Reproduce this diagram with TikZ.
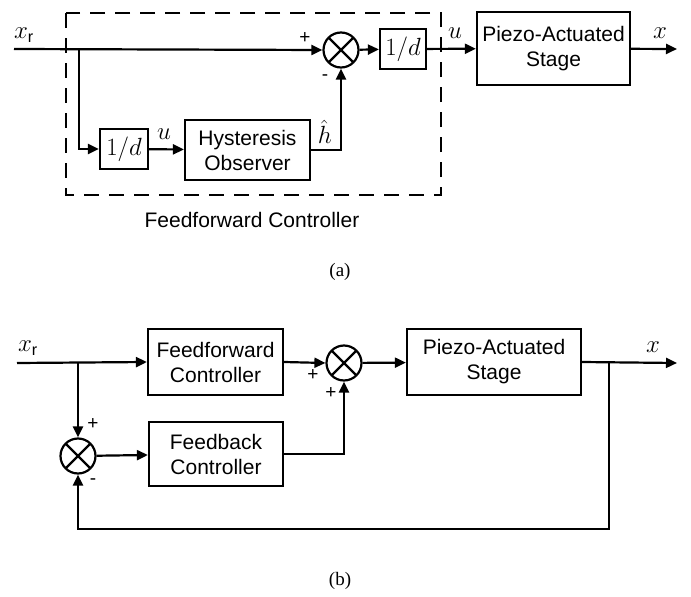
\documentclass[tikz,border=0pt]{standalone}
\usepackage{fontspec}
\setmainfont{Liberation Sans}
\newfontfamily\capfont{Liberation Serif}
\usetikzlibrary{arrows.meta,positioning}

\begin{document}
\begin{tikzpicture}[
  x=1pt,y=-1pt,
  every node/.style={font=\fontsize{21}{25}\selectfont,align=center},
  block/.style={draw,line width=2.2pt,inner sep=0pt},
  sumj/.style={draw,circle,line width=2.2pt,minimum size=35pt,inner sep=0pt,
    path picture={\draw[line width=2.2pt]
      (path picture bounding box.north west)--(path picture bounding box.south east)
      (path picture bounding box.north east)--(path picture bounding box.south west);}},
  sig/.style={font=\fontsize{19}{19}\selectfont,inner sep=0pt},
  lbl/.style={inner sep=0pt,font=\fontsize{23}{23}\selectfont},
  wire/.style={line width=2.2pt},
  arr/.style={wire,-{Triangle[length=11pt,width=10pt]}}
]
\useasboundingbox (0,0) rectangle (691,597);

% (a) feedforward structure
\draw[line width=2.2pt,dash pattern=on 15pt off 10pt] (66,13) rectangle (441,195);
\coordinate (inA) at (14,49);
\coordinate (brA) at (79,49);
\coordinate (outA) at (677,49);
\node[sumj] (sumA) at (341,50) {};
\node[block,minimum width=48pt,minimum height=40pt] (invA) at (124,149) {\fontsize{23}{23}\selectfont$1/d$};
\node[block,minimum width=125pt,minimum height=60pt] (hyst) at (247.5,150)
  {Hysteresis\\Observer};
\node[block,minimum width=46pt,minimum height=40pt] (invB) at (403,49) {\fontsize{23}{23}\selectfont$1/d$};
\node[block,minimum width=153pt,minimum height=73pt] (plantA) at (553.5,48.5)
  {Piezo-Actuated\\Stage};
\draw[arr] (inA)--(sumA.west);
\draw[arr] (brA)|-(invA.west);
\draw[arr] (invA)--(hyst);
\draw[arr] (hyst.east)-|(sumA.south);
\draw[arr] (sumA)--(invB);
\draw[arr] (invB)--(plantA);
\draw[arr] (plantA)--(outA);
\node[lbl] (xrA) at (24,35) {$x_{\mathrm{r}}$};
\node[lbl] (uA) at (164,134) {$u$};
\node[lbl] (hA) at (325,132) {$\hat{h}$};
\node[sig] (pA) at (305,38) {+};
\node[sig] (mA) at (325,78) {-};
\node[lbl] (uB) at (455,33) {$u$};
\node[lbl] (xA) at (660,33) {$x$};
\node (ffname) at (252,220) {Feedforward Controller};
\node[font=\capfont\fontsize{19}{19}\selectfont] (capA) at (340,272) {(a)};

% (b) feedforward plus feedback
\coordinate (inB) at (17,363);
\coordinate (brB) at (78,363);
\coordinate (brC) at (609,363);
\coordinate (outB) at (677,363);
\coordinate (botR) at (609,529);
\coordinate (botL) at (78,529);
\node[block,minimum width=135pt,minimum height=66pt] (ff) at (215.5,362)
  {Feedforward\\Controller};
\node[sumj] (sumB) at (344,363) {};
\node[sumj] (sumC) at (78,456) {};
\node[block,minimum width=134pt,minimum height=64pt] (fb) at (216,454)
  {Feedback\\Controller};
\node[block,minimum width=174pt,minimum height=66pt] (plantB) at (494,362)
  {Piezo-Actuated\\Stage};
\draw[arr] (inB)--(ff.west);
\draw[arr] (brB)--(sumC.north);
\draw[arr] (ff.east)--(sumB.west);
\draw[arr] (sumC)--(fb);
\draw[arr] (fb.east)-|(sumB.south);
\draw[arr] (sumB)--(plantB);
\draw[arr] (plantB.east)--(outB);
\draw[arr] (brC)--(botR)--(botL)--(sumC.south);
\node[lbl] (xrB) at (28,348) {$x_{\mathrm{r}}$};
\node[lbl] (xB) at (653,347) {$x$};
\node[sig] (pB) at (313,375) {+};
\node[sig] (pC) at (331,393) {+};
\node[sig] (pD) at (93,424) {+};
\node[sig] (mD) at (93,482) {-};
\node[font=\capfont\fontsize{19}{19}\selectfont] (capB) at (340,581) {(b)};
\end{tikzpicture}
\end{document}
